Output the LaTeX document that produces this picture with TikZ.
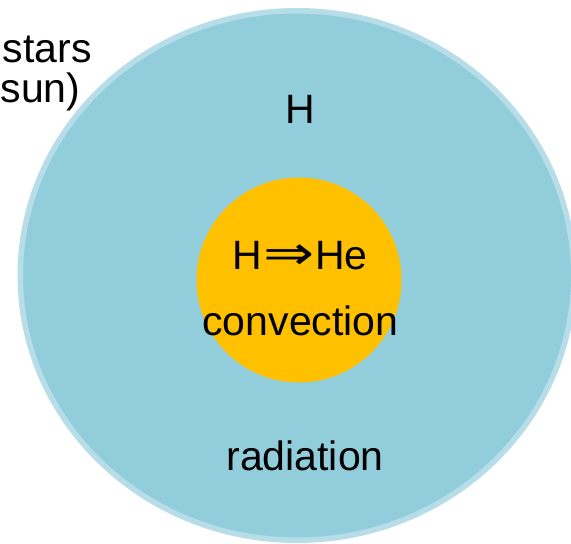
\documentclass[tikz,border=0pt]{standalone}
\usepackage{graphicx}
\usepackage{fontspec}
\setmainfont{Liberation Sans}
\newfontfamily\arrowfont{DejaVu Sans}

\tikzset{
  lbl/.style={anchor=base, inner sep=0pt, font=\fontsize{41}{40}\selectfont, text=black}
}

\begin{document}
\begin{tikzpicture}[x=1pt, y=-1pt]

\definecolor{cEnvelope}{HTML}{92CDDC}
\definecolor{cRim}{HTML}{B7DEE8}
\definecolor{cCore}{HTML}{FFC000}

%% Geometry: pixel units, y grows downwards.
\useasboundingbox (0,0) rectangle (571,544);

%% ---------- outer envelope ----------
\filldraw[cEnvelope, draw=cRim, line width=5.5pt]
  (297,275.5) ellipse [x radius=276.75, y radius=264.75];

%% ---------- the core ----------
\fill[cCore] (299,280) circle [radius=102.5];

%% ---------- labels ----------
\node[lbl, anchor=base east] (stars) at (92,62) {stars};
\node[lbl, anchor=base west] (sun)   at (0.5,102) {sun)};

\node[lbl] (hydrogen) at (300,123) {H};
\node[lbl] (fusion)   at (300,269.5)
  {H\hspace{1pt}\scalebox{1.3}[1]{\arrowfont\fontsize{47}{40}\selectfont ⇒}\hspace{1pt}He};
\node[lbl] (convect)  at (300.5,335) {convection};
\node[lbl] (radiate)  at (305,470) {radiation};

\end{tikzpicture}
\end{document}
